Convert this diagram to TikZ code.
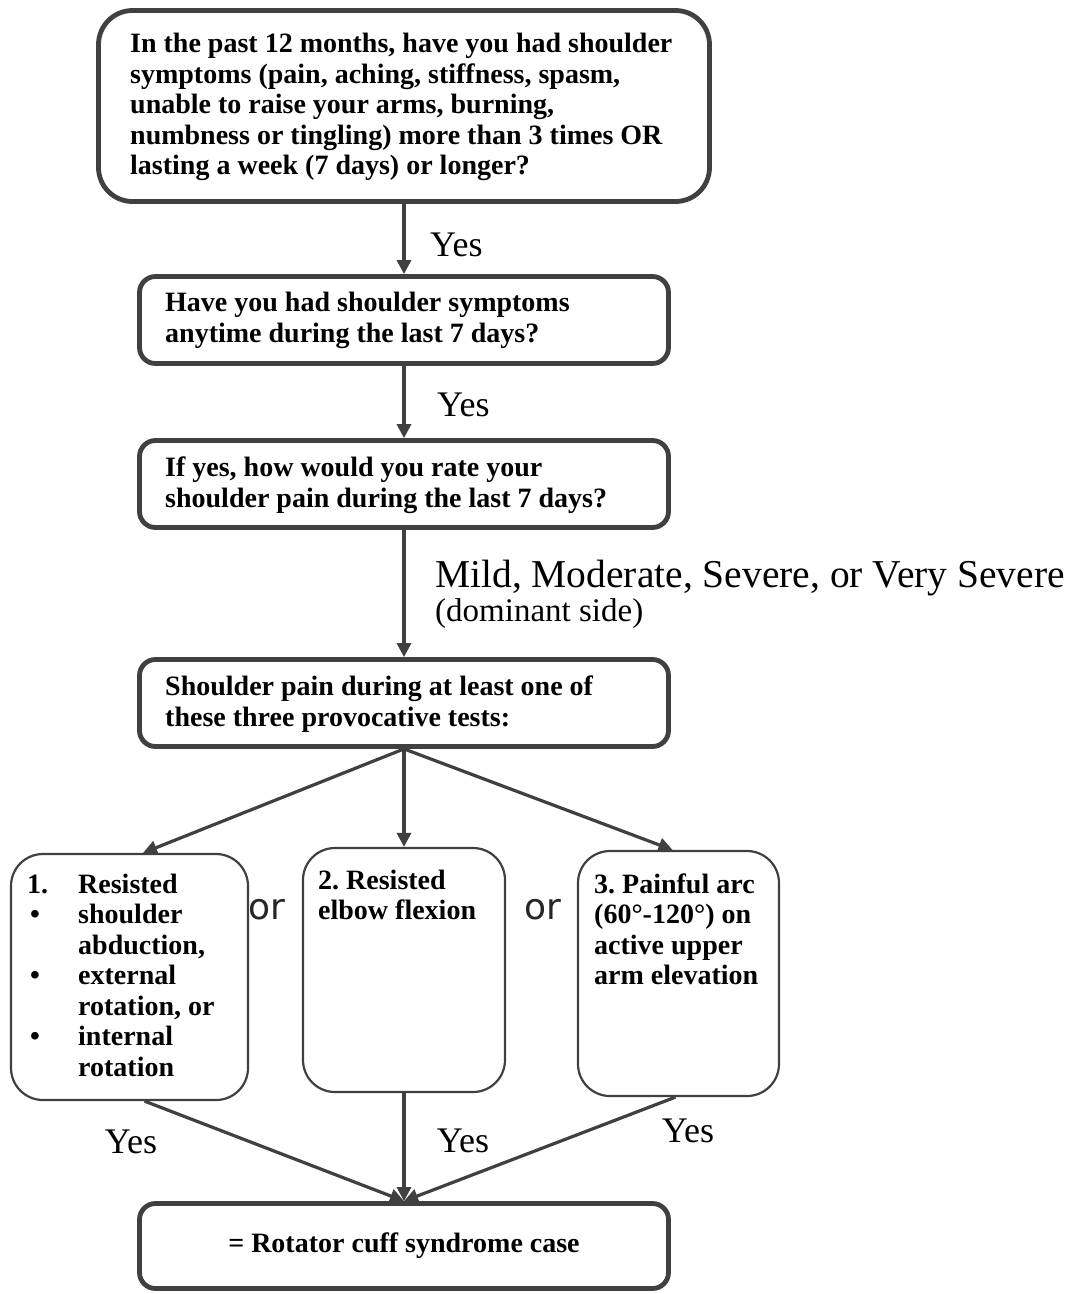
\documentclass[tikz,border=0pt]{standalone}
\usepackage{fontspec}
\setmainfont{Liberation Serif}
\newfontfamily\orfont{DejaVu Sans}
\usetikzlibrary{arrows.meta}
\definecolor{ln}{HTML}{404040}
\frenchspacing
\begin{document}
\begin{tikzpicture}[x=1pt,y=-1pt,
 bigbox/.style={draw=ln, line width=4.8pt, rounded corners=16pt, inner sep=0pt, fill=white},
 smallbox/.style={draw=ln, line width=2.2pt, rounded corners=32pt, inner sep=0pt, fill=white},
 txt/.style={inner sep=0pt, align=left, font=\fontsize{28}{30.5}\selectfont\bfseries, text=black},
 lbl/.style={inner sep=0pt, font=\fontsize{36}{40}\selectfont, text=black},
 arr/.style={draw=ln, line width=3.2pt, -{Triangle[length=14pt,width=14pt]}},
 ortxt/.style={inner sep=0pt, font=\orfont\fontsize{36}{40}\selectfont, text=black!85}]
\useasboundingbox[fill=white] (0,0) rectangle (1071,1294);

% boxes
\node[bigbox, rounded corners=34pt, minimum width=611pt, minimum height=191pt] (q1) at (404,106) {};
\node[bigbox, minimum width=529pt, minimum height=87pt] (q2) at (404,320) {};
\node[bigbox, minimum width=529pt, minimum height=87pt] (q3) at (404,484) {};
\node[bigbox, minimum width=529pt, minimum height=87pt] (q4) at (404,703) {};
\node[smallbox, minimum width=237pt, minimum height=246pt] (c1) at (129.5,977) {};
\node[smallbox, minimum width=202pt, minimum height=244pt] (c2) at (404,970) {};
\node[smallbox, minimum width=201pt, minimum height=245pt] (c3) at (678.5,973.5) {};
\node[bigbox, minimum width=529pt, minimum height=85pt] (res) at (404,1246) {};

% texts
\node[txt, anchor=west] (q1t) at (130,107) {In the past 12 months, have you had shoulder\\symptoms (pain, aching, stiffness, spasm,\\unable to raise your arms, burning,\\numbness or tingling) more than 3 times OR\\lasting a week (7 days) or longer?};
\node[txt, anchor=west] (q2t) at (165,320.5) {Have you had shoulder symptoms\\anytime during the last 7 days?};
\node[txt, anchor=west] (q3t) at (165,485) {If yes, how would you rate your\\shoulder pain during the last 7 days?};
\node[txt, anchor=west] (q4t) at (165,704) {Shoulder pain during at least one of\\these three provocative tests:};
\node[txt, anchor=west] (c1t) at (27,975) {\makebox[51pt][l]{1.}Resisted\\\makebox[51pt][l]{\hspace{3pt}•}shoulder\\\hspace*{51pt}abduction,\\\makebox[51pt][l]{\hspace{3pt}•}external\\\hspace*{51pt}rotation, or\\\makebox[51pt][l]{\hspace{3pt}•}internal\\\hspace*{51pt}rotation};
\node[txt, anchor=west] (c2t) at (318,895) {2. Resisted\\elbow flexion};
\node[txt, anchor=west] (c3t) at (594,929.5) {3. Painful arc\\(60°-120°) on\\active upper\\arm elevation};
\node[txt] (rest) at (404,1246) {= Rotator cuff syndrome case};

% connectors
\draw[arr] (q1) -- (q2);
\draw[arr] (q2) -- (q3);
\draw[arr] (q3) -- (q4);
\draw[arr] (q4.south) -- ([xshift=13.5pt]c1.north);
\draw[arr] (q4.south) -- (c2.north);
\draw[arr] (q4.south) -- ([xshift=-6pt]c3.north);
\draw[arr] ([xshift=15pt]c1.south) -- (res.north);
\draw[arr] (c2.south) -- (res.north);
\draw[arr] ([xshift=-3pt]c3.south) -- (res.north);

% labels
\node[lbl, anchor=west] (y1) at (430,245) {Yes};
\node[lbl, anchor=west] (y2) at (437,405) {Yes};
\node[lbl, anchor=west, font=\fontsize{39.5}{42}\selectfont] (mild) at (435,578) {Mild, Moderate, Severe, or Very Severe};
\node[lbl, anchor=west, font=\fontsize{33}{36}\selectfont] (dom) at (435,614) {(dominant side)};
\node[lbl] (y3) at (131,1142) {Yes};
\node[lbl] (y4) at (463,1141) {Yes};
\node[lbl] (y5) at (688,1131) {Yes};
\node[ortxt] (or1) at (267,910) {or};
\node[ortxt] (or2) at (543,910) {or};
\end{tikzpicture}
\end{document}
